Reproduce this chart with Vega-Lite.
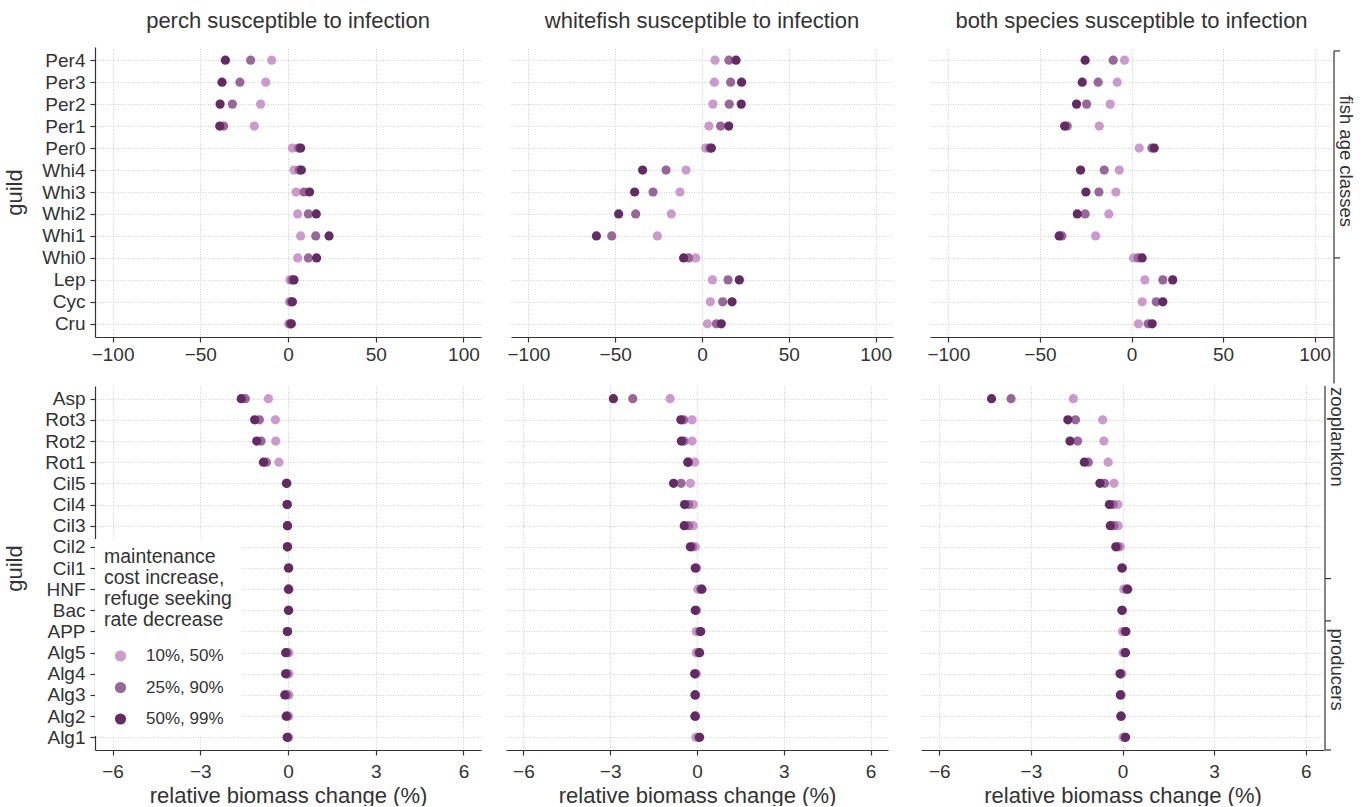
{
  "$schema": "https://vega.github.io/schema/vega-lite/v6.json",
  "padding": {"left": 3, "top": 10, "right": 2, "bottom": 0},
  "background": "white",
  "config": {
    "font": "Liberation Sans",
    "view": {"stroke": null},
    "axis": {
      "labelFont": "Liberation Sans", "labelFontSize": 19, "labelColor": "#333333",
      "titleFont": "Liberation Sans", "titleFontSize": 22, "titleColor": "#333333", "titleFontWeight": "normal",
      "domainColor": "#333333", "domainWidth": 1.2, "tickColor": "#333333", "tickWidth": 1.2, "tickSize": 5,
      "gridColor": "#bdbdbd", "gridDash": [1, 1.5], "gridWidth": 0.7, "labelFlush": false
    },
    "title": {"font": "Liberation Sans", "fontSize": 22, "fontWeight": "normal", "color": "#333333", "offset": 14, "anchor": "middle"}
  },
  "datasets": {
    "top_perch": [
      {"guild":"Per4","level":"10%, 50%","change":-9.3},{"guild":"Per4","level":"25%, 90%","change":-21.3},{"guild":"Per4","level":"50%, 99%","change":-35.7},
      {"guild":"Per3","level":"10%, 50%","change":-12.7},{"guild":"Per3","level":"25%, 90%","change":-27.4},{"guild":"Per3","level":"50%, 99%","change":-37.6},
      {"guild":"Per2","level":"10%, 50%","change":-15.6},{"guild":"Per2","level":"25%, 90%","change":-31.7},{"guild":"Per2","level":"50%, 99%","change":-38.7},
      {"guild":"Per1","level":"10%, 50%","change":-19.2},{"guild":"Per1","level":"25%, 90%","change":-36.7},{"guild":"Per1","level":"50%, 99%","change":-38.9},
      {"guild":"Per0","level":"10%, 50%","change":2.5},{"guild":"Per0","level":"25%, 90%","change":6.0},{"guild":"Per0","level":"50%, 99%","change":7.2},
      {"guild":"Whi4","level":"10%, 50%","change":3.4},{"guild":"Whi4","level":"25%, 90%","change":6.3},{"guild":"Whi4","level":"50%, 99%","change":7.6},
      {"guild":"Whi3","level":"10%, 50%","change":4.6},{"guild":"Whi3","level":"25%, 90%","change":9.1},{"guild":"Whi3","level":"50%, 99%","change":12.3},
      {"guild":"Whi2","level":"10%, 50%","change":5.5},{"guild":"Whi2","level":"25%, 90%","change":11.6},{"guild":"Whi2","level":"50%, 99%","change":16.1},
      {"guild":"Whi1","level":"10%, 50%","change":7.2},{"guild":"Whi1","level":"25%, 90%","change":15.8},{"guild":"Whi1","level":"50%, 99%","change":23.4},
      {"guild":"Whi0","level":"10%, 50%","change":5.5},{"guild":"Whi0","level":"25%, 90%","change":11.6},{"guild":"Whi0","level":"50%, 99%","change":16.3},
      {"guild":"Lep","level":"10%, 50%","change":1.1},{"guild":"Lep","level":"25%, 90%","change":2.3},{"guild":"Lep","level":"50%, 99%","change":3.4},
      {"guild":"Cyc","level":"10%, 50%","change":0.8},{"guild":"Cyc","level":"25%, 90%","change":1.7},{"guild":"Cyc","level":"50%, 99%","change":2.5},
      {"guild":"Cru","level":"10%, 50%","change":0.4},{"guild":"Cru","level":"25%, 90%","change":1.1},{"guild":"Cru","level":"50%, 99%","change":1.9}
    ],
    "top_whitefish": [
      {"guild":"Per4","level":"10%, 50%","change":7.5},{"guild":"Per4","level":"25%, 90%","change":15.5},{"guild":"Per4","level":"50%, 99%","change":19.6},
      {"guild":"Per3","level":"10%, 50%","change":7.1},{"guild":"Per3","level":"25%, 90%","change":16.5},{"guild":"Per3","level":"50%, 99%","change":22.8},
      {"guild":"Per2","level":"10%, 50%","change":6.3},{"guild":"Per2","level":"25%, 90%","change":15.7},{"guild":"Per2","level":"50%, 99%","change":22.6},
      {"guild":"Per1","level":"10%, 50%","change":4.0},{"guild":"Per1","level":"25%, 90%","change":10.7},{"guild":"Per1","level":"50%, 99%","change":15.4},
      {"guild":"Per0","level":"10%, 50%","change":2.1},{"guild":"Per0","level":"25%, 90%","change":4.4},{"guild":"Per0","level":"50%, 99%","change":5.4},
      {"guild":"Whi4","level":"10%, 50%","change":-9.2},{"guild":"Whi4","level":"25%, 90%","change":-20.7},{"guild":"Whi4","level":"50%, 99%","change":-34.2},
      {"guild":"Whi3","level":"10%, 50%","change":-12.7},{"guild":"Whi3","level":"25%, 90%","change":-28.2},{"guild":"Whi3","level":"50%, 99%","change":-38.8},
      {"guild":"Whi2","level":"10%, 50%","change":-17.7},{"guild":"Whi2","level":"25%, 90%","change":-38.2},{"guild":"Whi2","level":"50%, 99%","change":-48.0},
      {"guild":"Whi1","level":"10%, 50%","change":-25.7},{"guild":"Whi1","level":"25%, 90%","change":-52.0},{"guild":"Whi1","level":"50%, 99%","change":-60.8},
      {"guild":"Whi0","level":"10%, 50%","change":-3.6},{"guild":"Whi0","level":"25%, 90%","change":-7.7},{"guild":"Whi0","level":"50%, 99%","change":-10.6},
      {"guild":"Lep","level":"10%, 50%","change":6.0},{"guild":"Lep","level":"25%, 90%","change":15.0},{"guild":"Lep","level":"50%, 99%","change":21.5},
      {"guild":"Cyc","level":"10%, 50%","change":4.8},{"guild":"Cyc","level":"25%, 90%","change":11.9},{"guild":"Cyc","level":"50%, 99%","change":17.3},
      {"guild":"Cru","level":"10%, 50%","change":3.1},{"guild":"Cru","level":"25%, 90%","change":8.3},{"guild":"Cru","level":"50%, 99%","change":11.1}
    ],
    "top_both": [
      {"guild":"Per4","level":"10%, 50%","change":-3.8},{"guild":"Per4","level":"25%, 90%","change":-10.0},{"guild":"Per4","level":"50%, 99%","change":-25.3},
      {"guild":"Per3","level":"10%, 50%","change":-7.8},{"guild":"Per3","level":"25%, 90%","change":-18.2},{"guild":"Per3","level":"50%, 99%","change":-26.9},
      {"guild":"Per2","level":"10%, 50%","change":-11.6},{"guild":"Per2","level":"25%, 90%","change":-24.5},{"guild":"Per2","level":"50%, 99%","change":-30.0},
      {"guild":"Per1","level":"10%, 50%","change":-17.6},{"guild":"Per1","level":"25%, 90%","change":-35.1},{"guild":"Per1","level":"50%, 99%","change":-36.5},
      {"guild":"Per0","level":"10%, 50%","change":4.2},{"guild":"Per0","level":"25%, 90%","change":11.1},{"guild":"Per0","level":"50%, 99%","change":12.4},
      {"guild":"Whi4","level":"10%, 50%","change":-6.7},{"guild":"Whi4","level":"25%, 90%","change":-14.9},{"guild":"Whi4","level":"50%, 99%","change":-27.8},
      {"guild":"Whi3","level":"10%, 50%","change":-8.5},{"guild":"Whi3","level":"25%, 90%","change":-17.8},{"guild":"Whi3","level":"50%, 99%","change":-24.9},
      {"guild":"Whi2","level":"10%, 50%","change":-12.4},{"guild":"Whi2","level":"25%, 90%","change":-25.3},{"guild":"Whi2","level":"50%, 99%","change":-29.6},
      {"guild":"Whi1","level":"10%, 50%","change":-19.6},{"guild":"Whi1","level":"25%, 90%","change":-38.0},{"guild":"Whi1","level":"50%, 99%","change":-39.5},
      {"guild":"Whi0","level":"10%, 50%","change":1.1},{"guild":"Whi0","level":"25%, 90%","change":3.6},{"guild":"Whi0","level":"50%, 99%","change":5.8},
      {"guild":"Lep","level":"10%, 50%","change":7.3},{"guild":"Lep","level":"25%, 90%","change":17.1},{"guild":"Lep","level":"50%, 99%","change":22.5},
      {"guild":"Cyc","level":"10%, 50%","change":5.8},{"guild":"Cyc","level":"25%, 90%","change":13.5},{"guild":"Cyc","level":"50%, 99%","change":17.1},
      {"guild":"Cru","level":"10%, 50%","change":3.8},{"guild":"Cru","level":"25%, 90%","change":9.1},{"guild":"Cru","level":"50%, 99%","change":11.3}
    ],
    "bottom_perch": [
      {"guild":"Asp","level":"10%, 50%","change":-0.67},{"guild":"Asp","level":"25%, 90%","change":-1.46},{"guild":"Asp","level":"50%, 99%","change":-1.60},
      {"guild":"Rot3","level":"10%, 50%","change":-0.43},{"guild":"Rot3","level":"25%, 90%","change":-0.98},{"guild":"Rot3","level":"50%, 99%","change":-1.14},
      {"guild":"Rot2","level":"10%, 50%","change":-0.42},{"guild":"Rot2","level":"25%, 90%","change":-0.92},{"guild":"Rot2","level":"50%, 99%","change":-1.07},
      {"guild":"Rot1","level":"10%, 50%","change":-0.31},{"guild":"Rot1","level":"25%, 90%","change":-0.74},{"guild":"Rot1","level":"50%, 99%","change":-0.84},
      {"guild":"Cil5","level":"10%, 50%","change":-0.03},{"guild":"Cil5","level":"25%, 90%","change":-0.05},{"guild":"Cil5","level":"50%, 99%","change":-0.05},
      {"guild":"Cil4","level":"10%, 50%","change":-0.02},{"guild":"Cil4","level":"25%, 90%","change":-0.03},{"guild":"Cil4","level":"50%, 99%","change":-0.03},
      {"guild":"Cil3","level":"10%, 50%","change":-0.01},{"guild":"Cil3","level":"25%, 90%","change":-0.02},{"guild":"Cil3","level":"50%, 99%","change":-0.02},
      {"guild":"Cil2","level":"10%, 50%","change":-0.01},{"guild":"Cil2","level":"25%, 90%","change":-0.02},{"guild":"Cil2","level":"50%, 99%","change":-0.02},
      {"guild":"Cil1","level":"10%, 50%","change":0.02},{"guild":"Cil1","level":"25%, 90%","change":0.02},{"guild":"Cil1","level":"50%, 99%","change":0.02},
      {"guild":"HNF","level":"10%, 50%","change":0.02},{"guild":"HNF","level":"25%, 90%","change":0.02},{"guild":"HNF","level":"50%, 99%","change":0.02},
      {"guild":"Bac","level":"10%, 50%","change":0.02},{"guild":"Bac","level":"25%, 90%","change":0.02},{"guild":"Bac","level":"50%, 99%","change":0.02},
      {"guild":"APP","level":"10%, 50%","change":-0.01},{"guild":"APP","level":"25%, 90%","change":-0.02},{"guild":"APP","level":"50%, 99%","change":-0.02},
      {"guild":"Alg5","level":"10%, 50%","change":0.03},{"guild":"Alg5","level":"25%, 90%","change":-0.03},{"guild":"Alg5","level":"50%, 99%","change":-0.08},
      {"guild":"Alg4","level":"10%, 50%","change":0.03},{"guild":"Alg4","level":"25%, 90%","change":-0.03},{"guild":"Alg4","level":"50%, 99%","change":-0.08},
      {"guild":"Alg3","level":"10%, 50%","change":0.03},{"guild":"Alg3","level":"25%, 90%","change":-0.04},{"guild":"Alg3","level":"50%, 99%","change":-0.11},
      {"guild":"Alg2","level":"10%, 50%","change":0.02},{"guild":"Alg2","level":"25%, 90%","change":-0.02},{"guild":"Alg2","level":"50%, 99%","change":-0.06},
      {"guild":"Alg1","level":"10%, 50%","change":0.02},{"guild":"Alg1","level":"25%, 90%","change":0.0},{"guild":"Alg1","level":"50%, 99%","change":-0.03}
    ],
    "bottom_whitefish": [
      {"guild":"Asp","level":"10%, 50%","change":-0.93},{"guild":"Asp","level":"25%, 90%","change":-2.22},{"guild":"Asp","level":"50%, 99%","change":-2.89},
      {"guild":"Rot3","level":"10%, 50%","change":-0.17},{"guild":"Rot3","level":"25%, 90%","change":-0.46},{"guild":"Rot3","level":"50%, 99%","change":-0.56},
      {"guild":"Rot2","level":"10%, 50%","change":-0.17},{"guild":"Rot2","level":"25%, 90%","change":-0.45},{"guild":"Rot2","level":"50%, 99%","change":-0.54},
      {"guild":"Rot1","level":"10%, 50%","change":-0.08},{"guild":"Rot1","level":"25%, 90%","change":-0.29},{"guild":"Rot1","level":"50%, 99%","change":-0.32},
      {"guild":"Cil5","level":"10%, 50%","change":-0.23},{"guild":"Cil5","level":"25%, 90%","change":-0.55},{"guild":"Cil5","level":"50%, 99%","change":-0.81},
      {"guild":"Cil4","level":"10%, 50%","change":-0.13},{"guild":"Cil4","level":"25%, 90%","change":-0.29},{"guild":"Cil4","level":"50%, 99%","change":-0.43},
      {"guild":"Cil3","level":"10%, 50%","change":-0.13},{"guild":"Cil3","level":"25%, 90%","change":-0.29},{"guild":"Cil3","level":"50%, 99%","change":-0.44},
      {"guild":"Cil2","level":"10%, 50%","change":-0.06},{"guild":"Cil2","level":"25%, 90%","change":-0.16},{"guild":"Cil2","level":"50%, 99%","change":-0.23},
      {"guild":"Cil1","level":"10%, 50%","change":-0.01},{"guild":"Cil1","level":"25%, 90%","change":-0.04},{"guild":"Cil1","level":"50%, 99%","change":-0.06},
      {"guild":"HNF","level":"10%, 50%","change":0.03},{"guild":"HNF","level":"25%, 90%","change":0.13},{"guild":"HNF","level":"50%, 99%","change":0.17},
      {"guild":"Bac","level":"10%, 50%","change":-0.01},{"guild":"Bac","level":"25%, 90%","change":-0.04},{"guild":"Bac","level":"50%, 99%","change":-0.06},
      {"guild":"APP","level":"10%, 50%","change":-0.03},{"guild":"APP","level":"25%, 90%","change":0.09},{"guild":"APP","level":"50%, 99%","change":0.13},
      {"guild":"Alg5","level":"10%, 50%","change":-0.03},{"guild":"Alg5","level":"25%, 90%","change":0.06},{"guild":"Alg5","level":"50%, 99%","change":0.09},
      {"guild":"Alg4","level":"10%, 50%","change":-0.02},{"guild":"Alg4","level":"25%, 90%","change":-0.06},{"guild":"Alg4","level":"50%, 99%","change":-0.08},
      {"guild":"Alg3","level":"10%, 50%","change":-0.04},{"guild":"Alg3","level":"25%, 90%","change":-0.06},{"guild":"Alg3","level":"50%, 99%","change":-0.07},
      {"guild":"Alg2","level":"10%, 50%","change":-0.04},{"guild":"Alg2","level":"25%, 90%","change":-0.06},{"guild":"Alg2","level":"50%, 99%","change":-0.07},
      {"guild":"Alg1","level":"10%, 50%","change":-0.04},{"guild":"Alg1","level":"25%, 90%","change":0.06},{"guild":"Alg1","level":"50%, 99%","change":0.09}
    ],
    "bottom_both": [
      {"guild":"Asp","level":"10%, 50%","change":-1.61},{"guild":"Asp","level":"25%, 90%","change":-3.65},{"guild":"Asp","level":"50%, 99%","change":-4.29},
      {"guild":"Rot3","level":"10%, 50%","change":-0.65},{"guild":"Rot3","level":"25%, 90%","change":-1.54},{"guild":"Rot3","level":"50%, 99%","change":-1.79},
      {"guild":"Rot2","level":"10%, 50%","change":-0.61},{"guild":"Rot2","level":"25%, 90%","change":-1.47},{"guild":"Rot2","level":"50%, 99%","change":-1.72},
      {"guild":"Rot1","level":"10%, 50%","change":-0.47},{"guild":"Rot1","level":"25%, 90%","change":-1.12},{"guild":"Rot1","level":"50%, 99%","change":-1.25},
      {"guild":"Cil5","level":"10%, 50%","change":-0.28},{"guild":"Cil5","level":"25%, 90%","change":-0.59},{"guild":"Cil5","level":"50%, 99%","change":-0.74},
      {"guild":"Cil4","level":"10%, 50%","change":-0.15},{"guild":"Cil4","level":"25%, 90%","change":-0.31},{"guild":"Cil4","level":"50%, 99%","change":-0.43},
      {"guild":"Cil3","level":"10%, 50%","change":-0.14},{"guild":"Cil3","level":"25%, 90%","change":-0.28},{"guild":"Cil3","level":"50%, 99%","change":-0.40},
      {"guild":"Cil2","level":"10%, 50%","change":-0.07},{"guild":"Cil2","level":"25%, 90%","change":-0.15},{"guild":"Cil2","level":"50%, 99%","change":-0.22},
      {"guild":"Cil1","level":"10%, 50%","change":0.0},{"guild":"Cil1","level":"25%, 90%","change":-0.01},{"guild":"Cil1","level":"50%, 99%","change":-0.02},
      {"guild":"HNF","level":"10%, 50%","change":0.04},{"guild":"HNF","level":"25%, 90%","change":0.13},{"guild":"HNF","level":"50%, 99%","change":0.17},
      {"guild":"Bac","level":"10%, 50%","change":0.0},{"guild":"Bac","level":"25%, 90%","change":-0.01},{"guild":"Bac","level":"50%, 99%","change":-0.02},
      {"guild":"APP","level":"10%, 50%","change":0.0},{"guild":"APP","level":"25%, 90%","change":0.08},{"guild":"APP","level":"50%, 99%","change":0.11},
      {"guild":"Alg5","level":"10%, 50%","change":0.02},{"guild":"Alg5","level":"25%, 90%","change":0.08},{"guild":"Alg5","level":"50%, 99%","change":0.10},
      {"guild":"Alg4","level":"10%, 50%","change":-0.02},{"guild":"Alg4","level":"25%, 90%","change":-0.06},{"guild":"Alg4","level":"50%, 99%","change":-0.08},
      {"guild":"Alg3","level":"10%, 50%","change":-0.04},{"guild":"Alg3","level":"25%, 90%","change":-0.06},{"guild":"Alg3","level":"50%, 99%","change":-0.07},
      {"guild":"Alg2","level":"10%, 50%","change":-0.04},{"guild":"Alg2","level":"25%, 90%","change":-0.05},{"guild":"Alg2","level":"50%, 99%","change":-0.05},
      {"guild":"Alg1","level":"10%, 50%","change":0.02},{"guild":"Alg1","level":"25%, 90%","change":0.08},{"guild":"Alg1","level":"50%, 99%","change":0.10}
    ],
    "strip_top": [
      {"kind":"line","pos":0.58,"pos2":15.717},
      {"kind":"tick","pos":0.58},
      {"kind":"tick","pos":10.0},
      {"kind":"label","pos":5.6,"label":"fish age classes"}
    ],
    "strip_bottom": [
      {"kind":"line","pos":0.4,"pos2":17.6},
      {"kind":"tick","pos":9.5},
      {"kind":"tick","pos":11.5},
      {"kind":"tick","pos":17.6},
      {"kind":"label","pos":2.8,"label":"zooplankton"},
      {"kind":"label","pos":13.8,"label":"producers"}
    ]
  },
  "spacing": 0,
  "resolve": {"scale": {"color": "independent"}, "legend": {"color": "independent"}},
  "vconcat": [
    {
      "spacing": 25,
      "resolve": {"scale": {"color": "independent"}, "legend": {"color": "independent"}},
      "hconcat": [
        {
          "width": 386, "height": 290,
          "title": {"text": "perch susceptible to infection"},
          "data": {"name": "top_perch"},
          "mark": {"type": "circle", "size": 85, "opacity": 1},
          "encoding": {
            "x": {"field": "change", "type": "quantitative", "scale": {"domain": [-110, 110], "nice": false, "zero": false}, "axis": {"values": [-100, -50, 0, 50, 100], "title": null, "grid": true, "labelPadding": 3}},
            "y": {"field": "guild", "type": "nominal", "scale": {"type": "point", "padding": 0.6, "domain": ["Per4","Per3","Per2","Per1","Per0","Whi4","Whi3","Whi2","Whi1","Whi0","Lep","Cyc","Cru"]}, "axis": {"title": "guild", "grid": true, "labelPadding": 5, "minExtent": 57, "maxExtent": 57, "titlePadding": 12}},
            "color": {"field": "level", "type": "nominal", "scale": {"domain": ["10%, 50%", "25%, 90%", "50%, 99%"], "range": ["#cc99cc", "#996699", "#632a63"]}, "legend": null},
            "order": {"field": "level", "type": "ordinal", "sort": "ascending"}
          }
        },
        {
          "spacing": 33,
          "resolve": {"scale": {"color": "independent"}, "legend": {"color": "independent"}},
          "hconcat": [
            {
              "width": 382, "height": 290,
              "title": {"text": "whitefish susceptible to infection"},
              "data": {"name": "top_whitefish"},
              "mark": {"type": "circle", "size": 85, "opacity": 1},
              "encoding": {
                "x": {"field": "change", "type": "quantitative", "scale": {"domain": [-110, 110], "nice": false, "zero": false}, "axis": {"values": [-100, -50, 0, 50, 100], "title": null, "grid": true, "labelPadding": 3}},
                "y": {"field": "guild", "type": "nominal", "scale": {"type": "point", "padding": 0.6, "domain": ["Per4","Per3","Per2","Per1","Per0","Whi4","Whi3","Whi2","Whi1","Whi0","Lep","Cyc","Cru"]}, "axis": {"title": null, "grid": true, "labels": false, "ticks": false, "domain": false}},
                "color": {"field": "level", "type": "nominal", "scale": {"domain": ["10%, 50%", "25%, 90%", "50%, 99%"], "range": ["#cc99cc", "#996699", "#632a63"]}, "legend": null},
                "order": {"field": "level", "type": "ordinal", "sort": "ascending"}
              }
            },
            {
              "spacing": 0,
              "resolve": {"scale": {"color": "independent"}, "legend": {"color": "independent"}},
              "hconcat": [
                {
                  "width": 403, "height": 290,
                  "title": {"text": "both species susceptible to infection"},
                  "data": {"name": "top_both"},
                  "mark": {"type": "circle", "size": 85, "opacity": 1},
                  "encoding": {
                    "x": {"field": "change", "type": "quantitative", "scale": {"domain": [-110, 110], "nice": false, "zero": false}, "axis": {"values": [-100, -50, 0, 50, 100], "title": null, "grid": true, "labelPadding": 3}},
                    "y": {"field": "guild", "type": "nominal", "scale": {"type": "point", "padding": 0.6, "domain": ["Per4","Per3","Per2","Per1","Per0","Whi4","Whi3","Whi2","Whi1","Whi0","Lep","Cyc","Cru"]}, "axis": {"title": null, "grid": true, "labels": false, "ticks": false, "domain": false}},
                    "color": {"field": "level", "type": "nominal", "scale": {"domain": ["10%, 50%", "25%, 90%", "50%, 99%"], "range": ["#cc99cc", "#996699", "#632a63"]}, "legend": null},
                    "order": {"field": "level", "type": "ordinal", "sort": "ascending"}
                  }
                },
                {
                  "width": 26, "height": 290,
                  "data": {"name": "strip_top"},
                  "layer": [
                    {
                      "transform": [{"filter": "datum.kind == 'line'"}],
                      "mark": {"type": "rule", "color": "#333333", "strokeWidth": 1.2},
                      "encoding": {
                        "x": {"value": 1},
                        "y": {"field": "pos", "type": "quantitative", "scale": {"domain": [0.4, 13.6], "reverse": true, "nice": false, "zero": false}, "axis": null},
                        "y2": {"field": "pos2"}
                      }
                    },
                    {
                      "transform": [{"filter": "datum.kind == 'tick'"}],
                      "mark": {"type": "rule", "color": "#333333", "strokeWidth": 1.2},
                      "encoding": {
                        "x": {"value": 1}, "x2": {"value": 7},
                        "y": {"field": "pos", "type": "quantitative", "scale": {"domain": [0.4, 13.6], "reverse": true, "nice": false, "zero": false}, "axis": null}
                      }
                    },
                    {
                      "transform": [{"filter": "datum.kind == 'label'"}],
                      "mark": {"type": "text", "angle": 90, "fontSize": 18.5, "color": "#333333", "align": "center", "baseline": "middle", "font": "Liberation Sans"},
                      "encoding": {
                        "x": {"value": 13},
                        "y": {"field": "pos", "type": "quantitative", "scale": {"domain": [0.4, 13.6], "reverse": true, "nice": false, "zero": false}, "axis": null},
                        "text": {"field": "label"}
                      }
                    }
                  ]
                }
              ]
            }
          ]
        }
      ]
    },
    {
      "spacing": 25,
      "resolve": {"scale": {"color": "independent"}, "legend": {"color": "independent"}},
      "hconcat": [
        {
          "width": 386, "height": 364,
          "data": {"name": "bottom_perch"},
          "mark": {"type": "circle", "size": 85, "opacity": 1},
          "encoding": {
            "x": {"field": "change", "type": "quantitative", "scale": {"domain": [-6.6, 6.6], "nice": false, "zero": false}, "axis": {"values": [-6, -3, 0, 3, 6], "title": "relative biomass change (%)", "grid": true, "labelPadding": 7, "titlePadding": 4}},
            "y": {"field": "guild", "type": "nominal", "scale": {"type": "point", "padding": 0.6, "domain": ["Asp","Rot3","Rot2","Rot1","Cil5","Cil4","Cil3","Cil2","Cil1","HNF","Bac","APP","Alg5","Alg4","Alg3","Alg2","Alg1"]}, "axis": {"title": "guild", "grid": true, "labelPadding": 5, "minExtent": 57, "maxExtent": 57, "titlePadding": 12}},
            "color": {"field": "level", "type": "nominal", "scale": {"domain": ["10%, 50%", "25%, 90%", "50%, 99%"], "range": ["#cc99cc", "#996699", "#632a63"]},
              "legend": {
                "title": ["maintenance", "cost increase,", "refuge seeking", "rate decrease"],
                "orient": "none", "legendX": 0, "legendY": 153,
                "fillColor": "white", "padding": 9,
                "titleFont": "Liberation Sans", "titleFontSize": 19.5, "titleFontWeight": "normal", "titleColor": "#333333", "titleLineHeight": 21, "titlePadding": 17,
                "labelFont": "Liberation Sans", "labelFontSize": 17, "labelColor": "#333333", "labelOffset": 17,
                "symbolType": "circle", "symbolSize": 125, "symbolStrokeWidth": 0, "symbolOpacity": 1, "symbolOffset": 8,
                "rowPadding": 13.5
              }
            },
            "order": {"field": "level", "type": "ordinal", "sort": "ascending"}
          }
        },
        {
          "spacing": 33,
          "resolve": {"scale": {"color": "independent"}, "legend": {"color": "independent"}},
          "hconcat": [
            {
              "width": 382, "height": 364,
              "data": {"name": "bottom_whitefish"},
              "mark": {"type": "circle", "size": 85, "opacity": 1},
              "encoding": {
                "x": {"field": "change", "type": "quantitative", "scale": {"domain": [-6.6, 6.6], "nice": false, "zero": false}, "axis": {"values": [-6, -3, 0, 3, 6], "title": "relative biomass change (%)", "grid": true, "labelPadding": 7, "titlePadding": 4}},
                "y": {"field": "guild", "type": "nominal", "scale": {"type": "point", "padding": 0.6, "domain": ["Asp","Rot3","Rot2","Rot1","Cil5","Cil4","Cil3","Cil2","Cil1","HNF","Bac","APP","Alg5","Alg4","Alg3","Alg2","Alg1"]}, "axis": {"title": null, "grid": true, "labels": false, "ticks": false, "domain": false}},
                "color": {"field": "level", "type": "nominal", "scale": {"domain": ["10%, 50%", "25%, 90%", "50%, 99%"], "range": ["#cc99cc", "#996699", "#632a63"]}, "legend": null},
                "order": {"field": "level", "type": "ordinal", "sort": "ascending"}
              }
            },
            {
              "spacing": 0,
              "resolve": {"scale": {"color": "independent"}, "legend": {"color": "independent"}},
              "hconcat": [
                {
                  "width": 403, "height": 364,
                  "data": {"name": "bottom_both"},
                  "mark": {"type": "circle", "size": 85, "opacity": 1},
                  "encoding": {
                    "x": {"field": "change", "type": "quantitative", "scale": {"domain": [-6.6, 6.6], "nice": false, "zero": false}, "axis": {"values": [-6, -3, 0, 3, 6], "title": "relative biomass change (%)", "grid": true, "labelPadding": 7, "titlePadding": 4}},
                    "y": {"field": "guild", "type": "nominal", "scale": {"type": "point", "padding": 0.6, "domain": ["Asp","Rot3","Rot2","Rot1","Cil5","Cil4","Cil3","Cil2","Cil1","HNF","Bac","APP","Alg5","Alg4","Alg3","Alg2","Alg1"]}, "axis": {"title": null, "grid": true, "labels": false, "ticks": false, "domain": false}},
                    "color": {"field": "level", "type": "nominal", "scale": {"domain": ["10%, 50%", "25%, 90%", "50%, 99%"], "range": ["#cc99cc", "#996699", "#632a63"]}, "legend": null},
                    "order": {"field": "level", "type": "ordinal", "sort": "ascending"}
                  }
                },
                {
                  "width": 26, "height": 364,
                  "data": {"name": "strip_bottom"},
                  "layer": [
                    {
                      "transform": [{"filter": "datum.kind == 'line'"}],
                      "mark": {"type": "rule", "color": "#333333", "strokeWidth": 1.2},
                      "encoding": {
                        "x": {"value": 1},
                        "y": {"field": "pos", "type": "quantitative", "scale": {"domain": [0.4, 17.6], "reverse": true, "nice": false, "zero": false}, "axis": null},
                        "y2": {"field": "pos2"}
                      }
                    },
                    {
                      "transform": [{"filter": "datum.kind == 'tick'"}],
                      "mark": {"type": "rule", "color": "#333333", "strokeWidth": 1.2},
                      "encoding": {
                        "x": {"value": 1}, "x2": {"value": 7},
                        "y": {"field": "pos", "type": "quantitative", "scale": {"domain": [0.4, 17.6], "reverse": true, "nice": false, "zero": false}, "axis": null}
                      }
                    },
                    {
                      "transform": [{"filter": "datum.kind == 'label'"}],
                      "mark": {"type": "text", "angle": 90, "fontSize": 18.5, "color": "#333333", "align": "center", "baseline": "middle", "font": "Liberation Sans"},
                      "encoding": {
                        "x": {"value": 13},
                        "y": {"field": "pos", "type": "quantitative", "scale": {"domain": [0.4, 17.6], "reverse": true, "nice": false, "zero": false}, "axis": null},
                        "text": {"field": "label"}
                      }
                    }
                  ]
                }
              ]
            }
          ]
        }
      ]
    }
  ]
}
